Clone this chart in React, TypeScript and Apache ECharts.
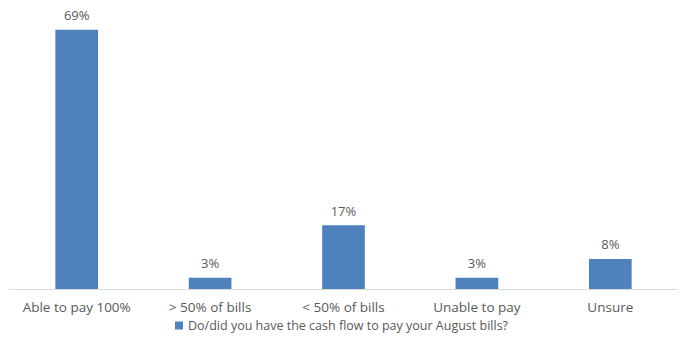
import React, { useEffect, useRef } from "react";
import * as echarts from "echarts";

const categories = ["Able to pay 100%", "> 50% of bills", "< 50% of bills", "Unable to pay", "Unsure"];
const values = [69, 3, 17, 3, 8];
const seriesName = "Do/did you have the cash flow to pay your August bills?";

const FONT = "Open Sans";

export default function App() {
  const ref = useRef<HTMLDivElement>(null);
  useEffect(() => {
    document.body.style.margin = "0";
    const chart = echarts.init(ref.current!, null, { renderer: "svg" });
    chart.setOption({
      animation: false,
      textStyle: { fontFamily: FONT },
      grid: { left: 10, right: 6, top: 26, bottom: 62, containLabel: false },
      legend: {
        bottom: 14,
        left: "center",
        icon: "rect",
        itemWidth: 8,
        itemHeight: 8,
        itemGap: 5,
        textStyle: { color: "#595959", fontSize: 12.5, fontFamily: FONT },
        data: [seriesName],
      },
      xAxis: {
        type: "category",
        data: categories,
        axisLine: { lineStyle: { color: "#d9d9d9", width: 1 } },
        axisTick: { show: false },
        axisLabel: { color: "#595959", fontSize: 13.5, margin: 11, interval: 0, fontFamily: FONT },
      },
      yAxis: {
        type: "value",
        min: 0,
        max: 70,
        show: false,
        splitLine: { show: false },
      },
      series: [
        {
          name: seriesName,
          type: "bar",
          data: values,
          barWidth: "32%",
          itemStyle: { color: "#4f81bd" },
          label: {
            show: true,
            position: "top",
            distance: 8,
            formatter: "{c}%",
            color: "#595959",
            fontSize: 13,
            fontFamily: FONT,
          },
        },
      ],
    });
    return () => chart.dispose();
  }, []);
  return <div ref={ref} style={{ width: 683, height: 351 }} />;
}
